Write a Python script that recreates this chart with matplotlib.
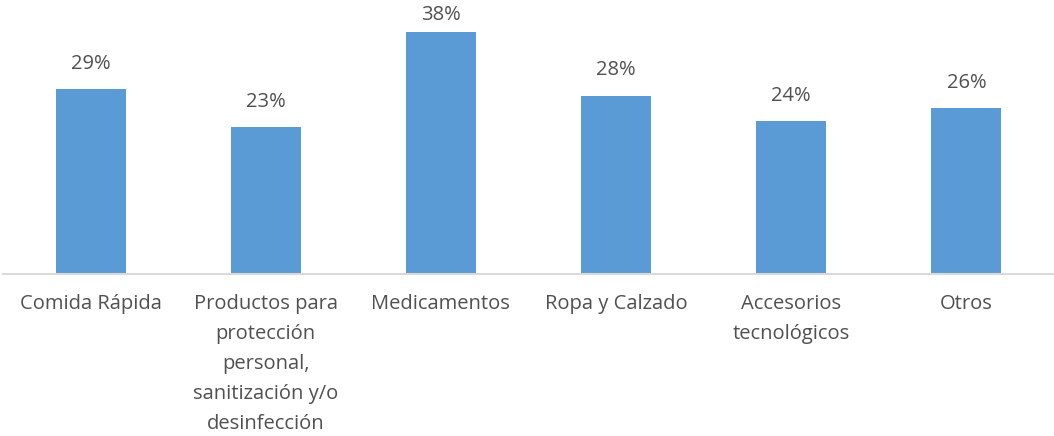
import matplotlib.pyplot as plt

categories = ['Comida Rápida',
              'Productos para\nprotección\npersonal,\nsanitización y/o\ndesinfección',
              'Medicamentos', 'Ropa y Calzado', 'Accesorios\ntecnológicos', 'Otros']
values = [29, 23, 38, 28, 24, 26]

plt.rcParams['font.family'] = ['Open Sans', 'DejaVu Sans']
txt = '#505050'

fig = plt.figure(figsize=(10.54, 4.36), dpi=100)
ax = fig.add_axes([3 / 1054, 1 - 274 / 436, 1051 / 1054, 274 / 436])

x = range(len(values))
bars = ax.bar(x, values, width=0.4, color='#5B9BD5', zorder=2)
for b, v in zip(bars, values):
    # label kept inside the plot area, as the original does for the tallest bar
    ax.text(b.get_x() + b.get_width() / 2, min(v + 2.4, 39.0), f'{v}%', ha='center',
            va='bottom', fontsize=14.5, color=txt)

ax.set_xlim(-0.5, len(values) - 0.5)
ax.set_ylim(0, 43)
ax.set_yticks([])
ax.set_xticks(list(x))
ax.set_xticklabels(categories, fontsize=14.5, color=txt, linespacing=1.665)
ax.tick_params(axis='x', length=0, pad=14.5)
for s in ['top', 'right', 'left']:
    ax.spines[s].set_visible(False)
ax.spines['bottom'].set_color('#D9D9D9')
ax.spines['bottom'].set_linewidth(1.5)

fig.savefig('out.png', dpi=100)
